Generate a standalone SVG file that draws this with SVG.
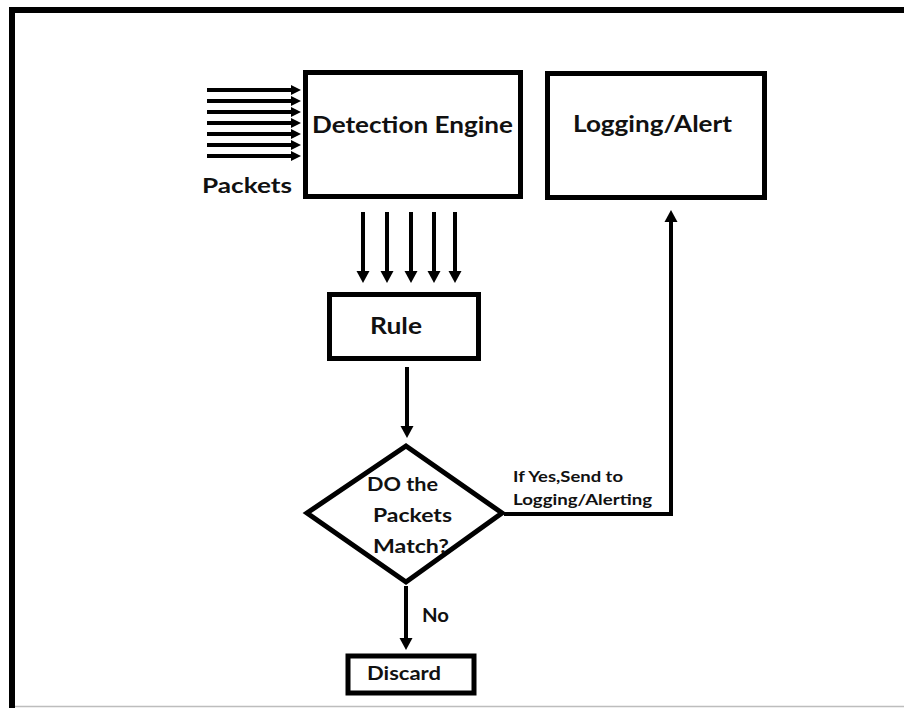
<svg xmlns="http://www.w3.org/2000/svg" width="904" height="708" viewBox="0 0 904 708">
  <style>
    .box { fill: #fff; stroke: #000; stroke-width: 5; }
    .ln { fill: none; stroke: #000; stroke-width: 4; }
    .t { font-family: Lato, "Open Sans", "Liberation Sans", sans-serif; font-weight: bold; fill: #111; }
  </style>
  <defs>
    <marker id="ah" markerUnits="userSpaceOnUse" markerWidth="14" markerHeight="14" viewBox="0 0 14 14" refX="0" refY="7" orient="auto">
      <path d="M0,0.5 L12,7 L0,13.5 z" fill="#000"/>
    </marker>
    <marker id="ahs" markerUnits="userSpaceOnUse" markerWidth="12" markerHeight="12" viewBox="0 0 12 12" refX="0" refY="6" orient="auto">
      <path d="M0,1 L10,6 L0,11 z" fill="#000"/>
    </marker>
  </defs>
  <rect width="904" height="708" fill="#fff"/>
  <g id="frame">
    <path d="M12,708 V10 H904" fill="none" stroke="#000" stroke-width="6"/>
    <line x1="15" y1="706.5" x2="904" y2="706.5" stroke="#bdbdbd" stroke-width="1.5"/>
  </g>
  <g id="connectors">
    <g class="packets">
      <line class="ln" x1="207" y1="90" x2="291" y2="90" marker-end="url(#ahs)"/>
      <line class="ln" x1="207" y1="101" x2="291" y2="101" marker-end="url(#ahs)"/>
      <line class="ln" x1="207" y1="112" x2="291" y2="112" marker-end="url(#ahs)"/>
      <line class="ln" x1="207" y1="123" x2="291" y2="123" marker-end="url(#ahs)"/>
      <line class="ln" x1="207" y1="134" x2="291" y2="134" marker-end="url(#ahs)"/>
      <line class="ln" x1="207" y1="145" x2="291" y2="145" marker-end="url(#ahs)"/>
      <line class="ln" x1="207" y1="156" x2="291" y2="156" marker-end="url(#ahs)"/>
    </g>
    <g class="down">
      <line class="ln" x1="363" y1="212" x2="363" y2="271" marker-end="url(#ah)"/>
      <line class="ln" x1="387" y1="212" x2="387" y2="271" marker-end="url(#ah)"/>
      <line class="ln" x1="411" y1="212" x2="411" y2="271" marker-end="url(#ah)"/>
      <line class="ln" x1="434" y1="212" x2="434" y2="271" marker-end="url(#ah)"/>
      <line class="ln" x1="455" y1="212" x2="455" y2="271" marker-end="url(#ah)"/>
    </g>
    <line class="ln" x1="407" y1="367" x2="407" y2="426" marker-end="url(#ah)"/>
    <path class="ln" d="M504,514 H671 V222" stroke-linejoin="miter" marker-end="url(#ah)"/>
    <line class="ln" x1="406" y1="586" x2="406" y2="638" marker-end="url(#ah)"/>
    <text class="t" x="513" y="482" font-size="15" textLength="110" lengthAdjust="spacingAndGlyphs">If Yes,Send to</text>
    <text class="t" x="513" y="505" font-size="15" textLength="139" lengthAdjust="spacingAndGlyphs">Logging/Alerting</text>
    <text class="t" x="422" y="622" font-size="18" textLength="27" lengthAdjust="spacingAndGlyphs">No</text>
    <text class="t" x="202" y="193" font-size="21" textLength="90" lengthAdjust="spacingAndGlyphs">Packets</text>
  </g>
  <g id="detection-engine">
    <rect class="box" x="305.5" y="72.5" width="215" height="124"/>
    <text class="t" x="312" y="133" font-size="22" textLength="201" lengthAdjust="spacingAndGlyphs">Detection Engine</text>
  </g>
  <g id="logging-alert">
    <rect class="box" x="547.5" y="73.5" width="217" height="124"/>
    <text class="t" x="573" y="132" font-size="22" textLength="159" lengthAdjust="spacingAndGlyphs">Logging/Alert</text>
  </g>
  <g id="rule">
    <rect class="box" x="329.5" y="294.5" width="149" height="64"/>
    <text class="t" x="370" y="334" font-size="22" textLength="52" lengthAdjust="spacingAndGlyphs">Rule</text>
  </g>
  <g id="decision">
    <polygon class="box" points="406,446 502,513 406,582 307,513"/>
    <text class="t" x="367" y="491" font-size="18.5" textLength="71" lengthAdjust="spacingAndGlyphs">DO the</text>
    <text class="t" x="373" y="522" font-size="18.5" textLength="79" lengthAdjust="spacingAndGlyphs">Packets</text>
    <text class="t" x="373" y="553" font-size="18.5" textLength="76" lengthAdjust="spacingAndGlyphs">Match?</text>
  </g>
  <g id="discard">
    <rect class="box" x="348" y="656" width="126" height="37" stroke-width="6"/>
    <text class="t" x="367" y="680" font-size="18.5" textLength="74" lengthAdjust="spacingAndGlyphs">Discard</text>
  </g>
</svg>
